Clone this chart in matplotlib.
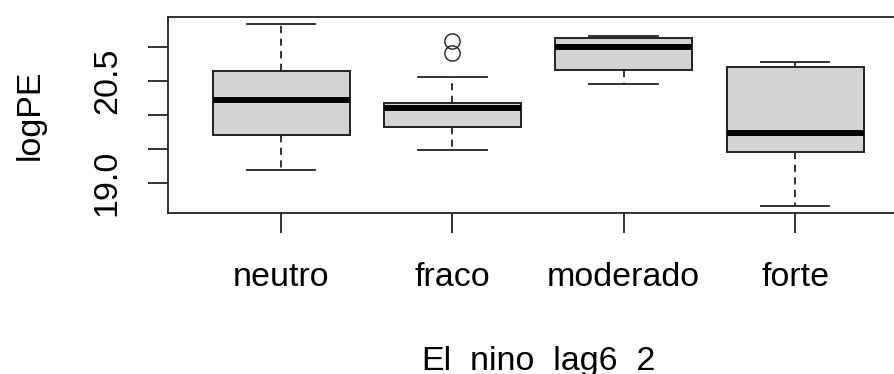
import numpy as np
import matplotlib
matplotlib.use("Agg")
from matplotlib import pyplot as plt

plt.rcParams['font.family'] = ['Liberation Sans', 'DejaVu Sans']

# five-number summaries of logPE per El Nino class
groups = ['neutro', 'fraco', 'moderado', 'forte']
whisk_lo = [19.19, 19.48, 20.46, 18.66]
q1 = [19.71, 19.83, 20.67, 19.45]
med = [20.22, 20.10, 21.01, 19.74]
q3 = [20.65, 20.18, 21.14, 20.71]
whisk_hi = [21.34, 20.56, 21.17, 20.79]
outliers = [[], [21.10, 20.92], [], []]

y_ticks = [19.0, 19.5, 20.0, 20.5, 21.0]
y_tick_labels = ['19.0', '', '', '20.5', '']

stats = []
for i, g in enumerate(groups):
    stats.append(dict(label=g, whislo=whisk_lo[i], q1=q1[i], med=med[i],
                      q3=q3[i], whishi=whisk_hi[i], fliers=outliers[i]))

fig = plt.figure(figsize=(8.95, 3.74), dpi=100)
ax = fig.add_axes([0.1877, 0.4305, 0.827, 0.524])

lc = '#222222'
ax.bxp(stats, positions=np.arange(1, 5), widths=0.8, capwidths=0.4,
       patch_artist=True, showfliers=True,
       boxprops=dict(facecolor='#d3d3d3', edgecolor=lc, linewidth=1.4),
       medianprops=dict(color='black', linewidth=4.3, solid_capstyle='butt'),
       whiskerprops=dict(color=lc, linewidth=1.3, linestyle=(0, (4, 3))),
       capprops=dict(color=lc, linewidth=1.3),
       flierprops=dict(marker='o', markerfacecolor='none', markeredgecolor=lc,
                       markersize=11, markeredgewidth=1.0))

# R style axis range: 4% beyond the data
lo = min(whisk_lo + sum(outliers, []))
hi = max(whisk_hi + sum(outliers, []))
pad = 0.04 * (hi - lo)
ax.set_ylim(lo - pad, hi + pad)
ax.set_xlim(0.5 - 0.16, 4.5 + 0.16)

ax.set_yticks(y_ticks)
ax.set_yticklabels(y_tick_labels, rotation=90, va='center')
ax.set_xticks(np.arange(1, 5))
ax.set_xticklabels(groups)

ax.tick_params(axis='both', length=14.5, width=1.3, color=lc, labelsize=24.5)
ax.tick_params(axis='x', pad=21)
ax.tick_params(axis='y', pad=18)
for s in ax.spines.values():
    s.set_linewidth(1.3)
    s.set_color(lc)
# the right edge of the frame falls outside the figure
ax.spines['right'].set_visible(False)

ax.set_xlabel('El_nino_lag6_2', fontsize=24.5, labelpad=38)
ax.set_ylabel('logPE', fontsize=24.5, labelpad=33)

fig.savefig('out.png', dpi=100)
